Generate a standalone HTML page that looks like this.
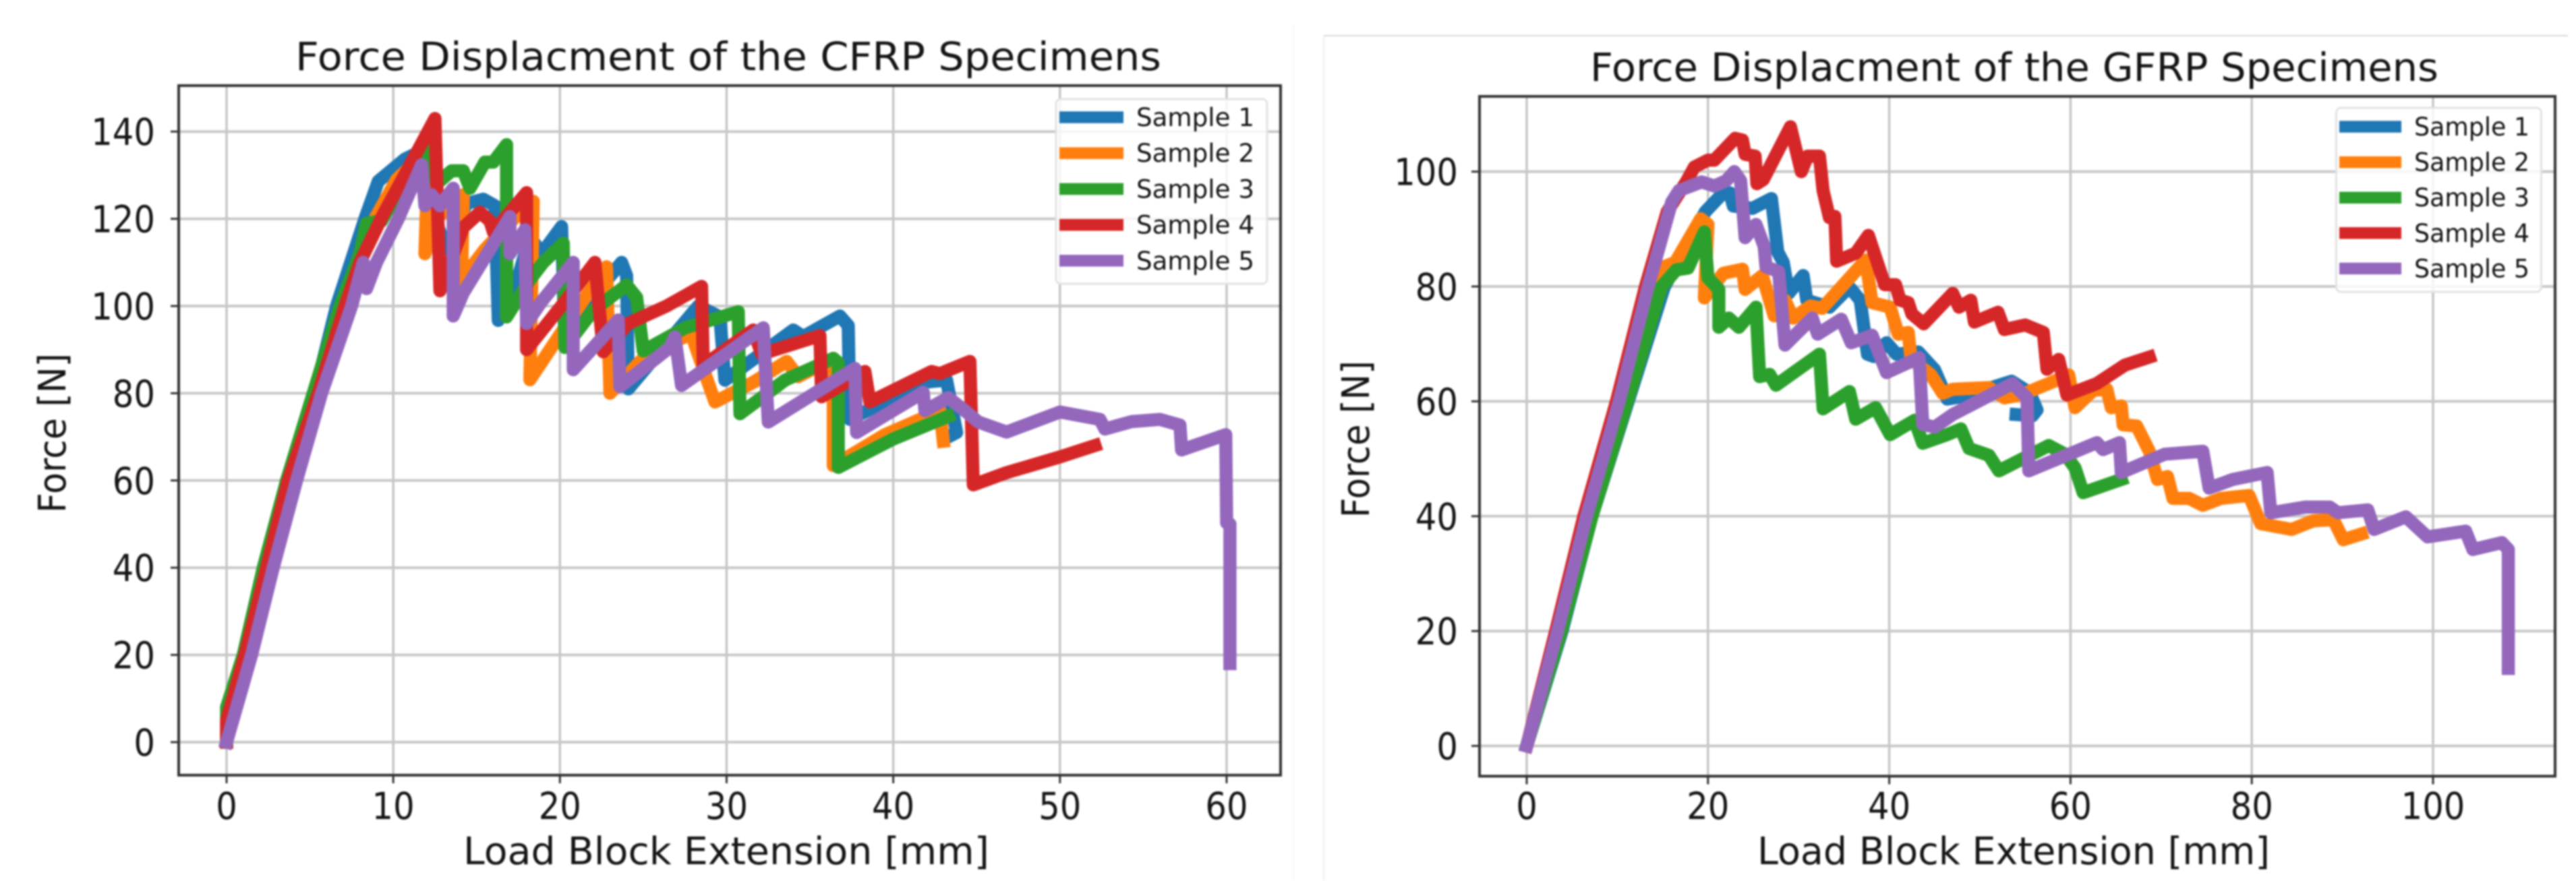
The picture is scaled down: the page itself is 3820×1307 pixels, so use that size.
<!DOCTYPE html>
<html lang="en">
<head>
<meta charset="utf-8">
<title>Force Displacement of CFRP and GFRP Specimens</title>
<style>
html,body{margin:0;padding:0;background:#fff;width:3820px;height:1307px;overflow:hidden}
svg{display:block;filter:blur(1.4px)}
text{font-family:"DejaVu Sans","Liberation Sans",sans-serif;fill:#141414}
</style>
</head>
<body>
<svg id="figure" xmlns="http://www.w3.org/2000/svg" width="3820" height="1307" viewBox="0 0 3820 1307">
<rect width="3820" height="1307" fill="#fff"/>
<line x1="1918" y1="37" x2="1918" y2="1307" stroke="#fafafa" stroke-width="3"/>
<line x1="1963" y1="53" x2="3808" y2="53" stroke="#d8d8d8" stroke-width="2"/>
<line x1="1963" y1="53" x2="1963" y2="1307" stroke="#efefef" stroke-width="2"/>
</svg>
<script>
// ---------- shared labels ----------
const sampleNames = ['Sample 1', 'Sample 2', 'Sample 3', 'Sample 4', 'Sample 5'];
const sampleColors = ['#1f77b4', '#ff7f0e', '#2ca02c', '#d62728', '#9467bd'];

// ---------- CFRP chart ----------
const cfrpXTicks = [0, 10, 20, 30, 40, 50, 60];
const cfrpYTicks = [0, 20, 40, 60, 80, 100, 120, 140];

const cfrpS1X = [0,0.05,1.1,2.3,3.6,5.3,6.6,8.3,9.1,10.7,12.3,12.7,13.2,14.4,15.4,16.1,16.3,17.3,18.2,18.9,20.1,20.3,21.5,23.7,24,24.1,28.3,29.6,29.9,34,34.6,36.8,37.3,37.4,41.8,43.2,43.8,43.3];
const cfrpS1Y = [0,5,20,40,60,80,100,120,128.6,133.7,136.7,118,113,123.5,124.5,123,96.7,104,116,112,118.2,92,100,110,107,81,100,97.5,83,94.5,93,97.7,95.5,74,82.5,83,71,70];
const cfrpS2X = [0,1.2,2.5,3.8,5.4,6.9,8.9,10.2,11.3,12.1,11.9,12.6,13.4,14.2,14.1,15.5,17.6,18.4,18.2,20.8,22.8,23,25.5,27.9,28.2,29.3,31.6,33.6,34.3,36.4,36.4,39.5,42.8,43];
const cfrpS2Y = [0,20,40,60,80,100,120,129,133,135.5,112,120,123,125.5,106,113,121.5,124,83.1,98,109,80,90,93.5,90,78,82.5,87.3,83.8,88,63.4,70.5,76,69];
const cfrpS3X = [0,0,1,2.2,3.6,5.2,6.8,8,8.4,9.3,10.4,11.5,12.2,12.6,13.5,14.2,14.6,15.5,16,16.8,16.8,18.2,19,20.2,20.3,22,24,24.6,25,27.5,30.7,30.8,33.5,36.4,36.7,36.7,40,43.3];
const cfrpS3Y = [0,8,20,40,60,80,100,112,119,119.5,127,134,136,128,131,131,127,133,133,137,97.5,106,110,114.4,90.5,99,104.8,102,89.7,95,98.7,75.3,83,88,87,63,69.5,74.7];
const cfrpS4X = [0,0,1.1,2.4,3.7,5.5,7.1,8,9.4,11.2,12.5,12.8,14.2,15.2,15.8,16,18,18,20.5,22.1,22.6,24.1,26.4,28.5,28.6,31.6,32.1,35.6,35.7,38.3,38.6,42.3,42.8,44.6,44.8,46.8,50,52.1];
const cfrpS4Y = [0,5,20,40,60,80,100,110,121,133.7,143,103.5,118,121.5,119.5,117,126,90,102,110,89.5,96,100,104.5,86.4,94.5,89,93.2,79.2,85,78,85,84.5,87.3,59,61.8,65.4,68];
const cfrpS5X = [0,1.5,2.8,4.2,5.7,7.5,8.2,8.4,9,10.3,11.7,11.9,12.3,12.8,13.6,13.6,14.2,17,17,17.9,18,18.9,20.8,20.8,23.5,23.6,26.6,26.9,27.3,32.2,32.5,37.7,37.8,41.8,41.9,43.3,44.3,45.1,46.8,50,52.4,52.7,54.3,56,57.2,57.3,59.95,60,60.2,60.2];
const cfrpS5Y = [0,20,40,60,80,100,110,104,110,120,132.4,123,125.5,123,127,97.7,103,120.5,112,117.5,96,101,110,85.4,96.8,81.5,90.5,92.9,81.8,95,73.4,85.7,71,80.2,76,79,76,73.4,71.1,75.7,74,71.8,73.5,74,72.7,67,70.5,50.3,50,18];

// ---------- GFRP chart ----------
const gfrpXTicks = [0, 20, 40, 60, 80, 100];
const gfrpYTicks = [0, 20, 40, 60, 80, 100];

const gfrpS1X = [0,3.9,7.2,11.2,15.2,18,19.7,21.5,22.4,22.8,24.9,27,27.7,28.3,28.9,30.5,30.9,33.4,35.6,36.8,37.6,38.3,39.7,40.8,43.2,45,46.4,48.3,53.5,55.5,56.3,55.8,54];
const gfrpS1Y = [0,20,40,60,80,88,93,96,96.3,94,93.6,95.3,86,84.2,78.8,81.9,77.6,76.4,79.9,77.6,68.2,67.8,70.2,68.2,68.6,65.5,60.4,60.9,63.5,61.5,58.5,57.5,57.7];
const gfrpS2X = [0,3.5,6.8,10.5,13.5,15.1,16.4,19.2,20,19.6,20.9,21.7,23.8,24.1,26,27.3,28.5,29.4,31.3,32.6,37.4,38.1,40.1,41,42.1,42.4,44.6,45.9,47,51,52.7,54.5,57.6,59.8,60.5,62.5,64,64.5,65.6,65.8,67.3,68.7,69.6,70.7,71.3,73.1,74.6,76.6,79.7,81,84.4,86.8,89,90.1,92.1];
const gfrpS2Y = [0,20,40,60,76,83.4,84.2,91.8,90.8,78,80.7,82.3,83,79.5,81.9,74.9,77.6,74.5,76.6,76.2,84.6,77.2,76.4,71.7,72,67.4,64.6,61.4,62.1,62.4,60.6,61.1,63.1,64.6,58.9,61.9,62.1,58.9,59.2,55.9,55.7,51.3,46.4,46.9,43.1,43.1,41.9,43.1,43.6,38.7,37.7,39.2,39.4,35.9,36.9];
const gfrpS3X = [0,3.8,7.2,11.1,14.9,16.5,17.8,19.6,20,21.2,21.2,22.3,23.4,25.3,25.7,26.8,27.5,32.3,32.7,35.6,36.3,38.5,40.1,42.8,43.7,46.4,47.9,48.8,51,52.1,57.6,59.4,60.5,61.4,65.6];
const gfrpS3Y = [0,20,40,60,80,82.9,83.2,89.5,81.5,79.5,72.9,74.5,72.9,76.4,64.3,64.7,62.8,68.2,58.7,61.7,56.9,58.9,54.2,56.7,52.7,54.2,55.2,51.8,50.6,47.9,52.3,50.8,48.4,44.1,46.4];
const gfrpS4X = [0,3.2,6.3,9.9,13.1,15.5,17.6,18.5,20,20.7,23,23.8,24.1,25.2,25.4,26.1,29.1,30.3,31,32.3,32.7,33.4,34,34.2,36.3,37.7,39.5,40.7,41.2,42.1,42.5,43.8,47,47.7,49,49.4,52,52.7,55,57,57.4,58.7,59.6,62.9,66,68.7];
const gfrpS4Y = [0,20,40,60,80,93,98.2,100.8,102,102,105.8,105.5,103,102.7,97.9,98.6,107.8,100,102.7,102.7,96.7,92,92.2,84.4,85.8,88.9,80.3,80.3,77.6,77.2,75.2,73.5,78.8,76.4,77.6,73.8,75.5,72.5,73.3,72,65.6,67.3,61.1,63.1,66.3,67.7];
const gfrpS5X = [0,3.4,6.6,10.2,13.4,16,16.8,19.3,20.7,22,22.9,23.6,24.1,25.3,26.2,26.4,27.8,28.5,31.5,32.1,34.7,35.8,38.1,39.7,43.3,43.7,45,47,53.6,55.2,55.4,62.9,63.6,65.4,65.6,70.4,74.6,75.3,77.9,81.7,82.1,85.9,88.6,89.5,92.8,93.5,97,99.4,103.6,104.4,107.6,108.3,108.3];
const gfrpS5Y = [0,20,40,60,80,94.7,96.7,98.2,97.5,98.4,100,98.4,88.5,90.8,87,83.4,82.6,69.8,74.5,71.7,74.3,70.2,71.5,65,67.6,56,55.5,57.7,63.1,60.6,47.9,52.8,51.6,52.8,47.6,50.8,51.3,44.9,46.4,47.6,40.6,41.6,41.6,40.6,41.1,37.7,39.9,36.4,37.4,34.2,35.4,34.2,13.5];

// ---------- axis functions ----------
const cfrpXAxis = v => 336 + v * 24.716;
const cfrpYAxis = v => 1101 - v * 6.47;
const gfrpXAxis = v => 2264 + v * 13.44;
const gfrpYAxis = v => 1106.6 - v * 8.52;

const svg = document.getElementById('figure');
const NS = 'http://www.w3.org/2000/svg';

function make(tag, attrs, text) {
  const el = document.createElementNS(NS, tag);
  for (const k in attrs) el.setAttribute(k, attrs[k]);
  if (text !== undefined) el.textContent = text;
  svg.appendChild(el);
  return el;
}

function tickText(str, x, y, anchor, prefix) {
  const el = make('text', {x: x, y: y, 'text-anchor': anchor, 'font-size': 55, textLength: str.length * 31.6, lengthAdjust: 'spacingAndGlyphs'}, str);
  
  
  return el;
}

function drawChart(p) {
  // grid
  p.xTicks.forEach(t => {
    const g = make('line', {x1: p.xAxis(t), x2: p.xAxis(t), y1: p.top, y2: p.bottom, stroke: '#c4c4c4', 'stroke-width': 3.4});
    
    
  });
  p.yTicks.forEach(t => {
    const g = make('line', {x1: p.left, x2: p.right, y1: p.yAxis(t), y2: p.yAxis(t), stroke: '#c8c8c8', 'stroke-width': 4});
    
    
  });
  // series
  p.series.forEach((s, i) => {
    const d = s.x.map((v, j) => (j ? 'L' : 'M') + p.xAxis(v).toFixed(1) + ' ' + p.yAxis(s.y[j]).toFixed(1)).join('');
    const line = make('path', {d: d, fill: 'none', stroke: sampleColors[i], 'stroke-width': 19.5, 'stroke-linejoin': 'round', 'stroke-linecap': 'square'});
    
    
  });
  // ticks
  p.xTicks.forEach(t => {
    const m = make('line', {x1: p.xAxis(t), x2: p.xAxis(t), y1: p.bottom, y2: p.bottom + 12, stroke: '#333', 'stroke-width': 3});
    
    
    tickText(String(t), p.xAxis(t), 1215, 'middle', p.key + '-x');
  });
  p.yTicks.forEach(t => {
    const m = make('line', {x1: p.left - 12, x2: p.left, y1: p.yAxis(t), y2: p.yAxis(t), stroke: '#333', 'stroke-width': 3});
    
    
    tickText(String(t), p.yLabelRight, p.yAxis(t) + 20, 'end', p.key + '-y');
  });
  // spines
  const frame = make('rect', {x: p.left, y: p.top, width: p.right - p.left, height: p.bottom - p.top, fill: 'none', stroke: '#333', 'stroke-width': 4});
  
  
  // titles
  const title = make('text', {x: p.titleX, y: p.titleY, 'font-size': 58, textLength: p.titleW, lengthAdjust: 'spacingAndGlyphs'}, p.title);
  
  
  const xl = make('text', {x: p.xLabelX, y: 1282, 'font-size': 56, textLength: p.xLabelW, lengthAdjust: 'spacingAndGlyphs'}, 'Load Block Extension [mm]');
  
  
  const yl = make('text', {x: 0, y: 0, 'font-size': 56, textLength: p.yLabelLen, lengthAdjust: 'spacingAndGlyphs', transform: 'translate(' + p.yLabelX + ' ' + p.yLabelBottom + ') rotate(-90)'}, 'Force [N]');
  
  
  // legend
  const box = make('rect', {x: p.legend.x, y: p.legend.y, width: p.legend.w, height: p.legend.h, rx: 7, fill: 'rgba(255,255,255,0.82)', stroke: '#e2e2e2', 'stroke-width': 3});
  
  
  sampleNames.forEach((n, i) => {
    const cy = p.legend.row0 + i * p.legend.rowGap;
    const h = make('line', {x1: p.legend.hx, x2: p.legend.hx + p.legend.hw, y1: cy, y2: cy, stroke: sampleColors[i], 'stroke-width': 17.5});
    
    
    const t = make('text', {x: p.legend.tx, y: cy + 13, 'font-size': 37, textLength: p.legend.tw, lengthAdjust: 'spacingAndGlyphs'}, n);
    
    
  });
}

drawChart({
  key: 'cfrp', title: 'Force Displacment of the CFRP Specimens',
  xAxis: cfrpXAxis, yAxis: cfrpYAxis, xTicks: cfrpXTicks, yTicks: cfrpYTicks,
  left: 265, right: 1899, top: 127, bottom: 1150, yLabelRight: 230,
  titleX: 438, titleY: 104, titleW: 1284, xLabelX: 687, xLabelW: 780,
  yLabelX: 97, yLabelBottom: 761, yLabelLen: 237,
  legend: {x: 1566, y: 147, w: 313, h: 274, row0: 174, rowGap: 53.2, hx: 1571, hw: 95, tx: 1685, tw: 175},
  series: [{x: cfrpS1X, y: cfrpS1Y}, {x: cfrpS2X, y: cfrpS2Y}, {x: cfrpS3X, y: cfrpS3Y}, {x: cfrpS4X, y: cfrpS4Y}, {x: cfrpS5X, y: cfrpS5Y}]
});

drawChart({
  key: 'gfrp', title: 'Force Displacment of the GFRP Specimens',
  xAxis: gfrpXAxis, yAxis: gfrpYAxis, xTicks: gfrpXTicks, yTicks: gfrpYTicks,
  left: 2194, right: 3789, top: 143, bottom: 1151.5, yLabelRight: 2162,
  titleX: 2358, titleY: 120, titleW: 1258, xLabelX: 2606, xLabelW: 760,
  yLabelX: 2030, yLabelBottom: 768, yLabelLen: 233,
  legend: {x: 3464.5, y: 160, w: 304, h: 273, row0: 188, rowGap: 52.6, hx: 3469, hw: 92, tx: 3580, tw: 171},
  series: [{x: gfrpS1X, y: gfrpS1Y}, {x: gfrpS2X, y: gfrpS2Y}, {x: gfrpS3X, y: gfrpS3Y}, {x: gfrpS4X, y: gfrpS4Y}, {x: gfrpS5X, y: gfrpS5Y}]
});
</script>
</body>
</html>
